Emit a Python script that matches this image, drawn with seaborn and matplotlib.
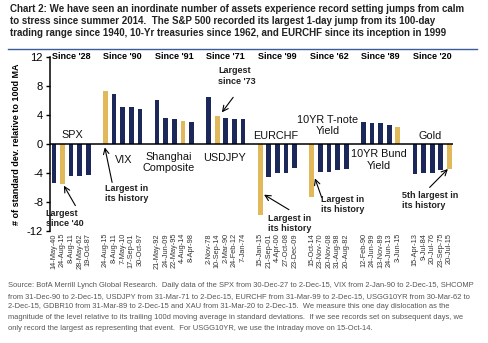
import numpy as np
import pandas as pd
import matplotlib
matplotlib.use("Agg")
import matplotlib.pyplot as plt
import seaborn as sns

# ---- data ----
groups = ["SPX", "VIX", "Shanghai\nComposite", "USDJPY", "EURCHF",
          "10YR T-note\nYield", "10YR Bund\nYield", "Gold"]
since = ["Since '28", "Since '90", "Since '91", "Since '71", "Since '99",
         "Since '62", "Since '89", "Since '20"]
spx = [-5.4, -5.5, -4.4, -4.4, -4.3]
vix = [7.3, 6.9, 5.15, 5.05, 4.8]
shcomp = [6.0, 3.55, 3.45, 3.2, 3.0]
usdjpy = [6.5, 3.8, 3.6, 3.5, 3.45]
eurchf = [-9.75, -4.5, -3.95, -3.95, -3.3]
tnote = [-7.35, -3.9, -3.8, -3.6, -3.4]
bund = [3.0, 2.95, 2.85, 2.6, 2.4]
gold = [-4.2, -4.05, -3.95, -3.6, -3.45]
highlight_idx = [1, 0, 3, 1, 0, 0, 4, 4]
dates = [
    ["14-May-40", "24-Aug-15", "8-Aug-11", "28-May-62", "19-Oct-87"],
    ["24-Aug-15", "8-Aug-11", "7-May-10", "17-Sep-01", "30-Oct-97"],
    ["21-May-92", "24-Jun-09", "22-May-95", "4-Aug-14", "8-Apr-98"],
    ["2-Nov-78", "10-Sep-14", "2-Mar-90", "24-Feb-12", "7-Jan-74"],
    ["15-Jan-15", "21-Sep-01", "4-Apr-00", "27-Oct-08", "23-Dec-09"],
    ["15-Oct-14", "23-Nov-70", "20-Nov-08", "31-Aug-98", "20-Aug-82"],
    ["12-Feb-90", "24-Jun-99", "13-Nov-89", "24-Jun-13", "3-Jun-15"],
    ["15-Apr-13", "9-Jul-84", "20-Jul-76", "23-Sep-75", "20-Jul-15"],
]
series = [spx, vix, shcomp, usdjpy, eurchf, tnote, bund, gold]

NAVY = "#1c2859"
GOLD = "#e2b95a"

rows = []
for g, (vals, dts, hi) in enumerate(zip(series, dates, highlight_idx)):
    for i, (v, d) in enumerate(zip(vals, dts)):
        rows.append(dict(pos=g * 6 + i, value=v, date=d,
                         hl="gold" if i == hi else "navy"))
df = pd.DataFrame(rows)

# ---- figure ----
fig = plt.figure(figsize=(4.88, 3.43), dpi=100)
ax = fig.add_axes([0.1025, 0.3265, 0.8255, 0.5075])

sns.barplot(data=df, x="pos", y="value", hue="hl",
            palette={"gold": GOLD, "navy": NAVY}, native_scale=True,
            dodge=False, legend=False, width=0.55, saturation=1, ax=ax)

ax.set_xlim(-0.45, 46.4)
ax.set_ylim(-12, 12)
ax.set_yticks([12, 8, 4, 0, -4, -8, -12])
ax.set_yticklabels(["12", "8", "4", "0", "-4", "-8", "-12"],
                   fontsize=8, family="Liberation Sans")
ax.set_xticks(df["pos"])
ax.set_xticklabels(df["date"], rotation=90, fontsize=5.3,
                   family="Liberation Sans", color="#333333")
ax.tick_params(axis="x", length=0, pad=1.5)
ax.tick_params(axis="y", length=3, width=1, direction="out", pad=2)
for s in ["top", "right", "bottom"]:
    ax.spines[s].set_visible(False)
ax.spines["left"].set_linewidth(1.1)
ax.axhline(0, color="black", lw=1.1, zorder=3)
ax.set_xlabel("")
ax.set_ylabel("# of standard dev. relative to 100d MA", fontsize=6.5,
              fontweight="bold", family="Liberation Sans", labelpad=4)

# group headers & names
name_pos = [(2.17, 1.2), (8.14, -2.2), (13.3, -2.5), (19.8, -2.0),
            (25.8, 1.15), (31.8, 2.5), (37.8, -2.2), (43.7, 1.15)]
for g in range(8):
    ax.text(g * 6 + 2, 12, since[g], ha="center", va="center", fontsize=6.5,
            fontweight="bold", family="Liberation Sans", clip_on=False)
    x, y = name_pos[g]
    ax.text(x, y, groups[g], ha="center", va="center", fontsize=7.8,
            family="Liberation Sans", linespacing=1.15, color="#111111")

# annotations
ann = [
    ("Largest\nsince '40", (-0.96, -8.97), (2.5, -8.5), (1.16, -5.75)),
    ("Largest in\nits history", (6.0, -5.48), (6.77, -5.3), (5.92, -0.47)),
    ("Largest\nsince '73", (19.1, 10.7), (20.85, 6.43), (19.54, 4.36)),
    ("Largest in\nits history", (24.9, -9.6), (27.34, -9.06), (24.44, -6.99)),
    ("Largest in\nits history", (31.06, -7.0), (31.14, -7.37), (30.36, -4.74)),
    ("5th largest in\nits history", (40.45, -6.44), (43.7, -5.99), (45.82, -3.45)),
]
for txt, tp, tail, head in ann:
    ax.text(tp[0], tp[1], txt, ha="left", va="top", fontsize=6.5,
            fontweight="bold", family="Liberation Sans", color="#222222",
            linespacing=1.2, clip_on=False)
    ax.annotate("", xy=head, xytext=tail,
                arrowprops=dict(arrowstyle="->", lw=0.8, color="black",
                                shrinkA=0, shrinkB=0))

# title
title = ("Chart 2: We have seen an inordinate number of assets experience record setting jumps from calm\n"
         "to stress since summer 2014.  The S&P 500 recorded its largest 1-day jump from its 100-day\n"
         "trading range since 1940, 10-Yr treasuries since 1962, and EURCHF since its inception in 1999")
fig.text(0.02, 0.987, title, ha="left", va="top", fontsize=7.0, fontweight="bold",
         family="Liberation Sans", color="#222222", linespacing=1.2)
fig.add_artist(plt.Line2D([0.017, 0.977], [0.857, 0.857], color="#3b5c9a", lw=1))

source = ("Source: BofA Merrill Lynch Global Research.  Daily data of the SPX from 30-Dec-27 to 2-Dec-15, VIX from 2-Jan-90 to 2-Dec-15, SHCOMP\n"
          "from 31-Dec-90 to 2-Dec-15, USDJPY from 31-Mar-71 to 2-Dec-15, EURCHF from 31-Mar-99 to 2-Dec-15, USGG10YR from 30-Mar-62 to\n"
          "2-Dec-15, GDBR10 from 31-Mar-89 to 2-Dec-15 and XAU from 31-Mar-20 to 2-Dec-15.  We measure this one day dislocation as the\n"
          "magnitude of the level relative to its trailing 100d moving average in standard deviations.  If we see records set on subsequent days, we\n"
          "only record the largest as representing that event.  For USGG10YR, we use the intraday move on 15-Oct-14.")
fig.text(0.017, 0.178, source, ha="left", va="top", fontsize=5.4,
         family="Liberation Sans", color="#555555", linespacing=1.75)

fig.savefig("out.png", dpi=100)
